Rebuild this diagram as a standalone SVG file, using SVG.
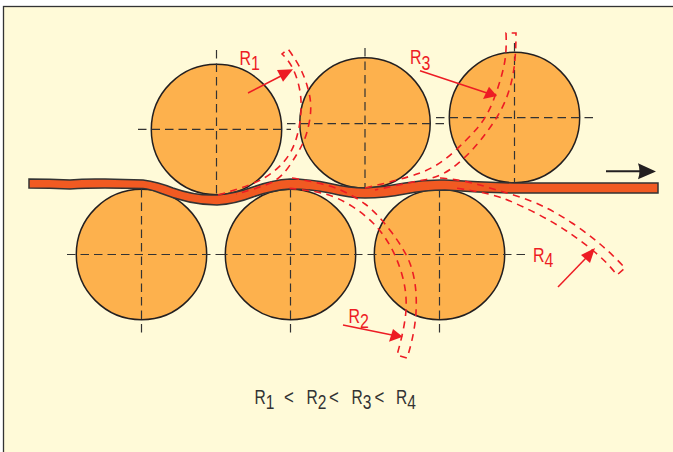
<svg xmlns="http://www.w3.org/2000/svg" width="673" height="452" viewBox="0 0 673 452">
<style>
.roll{fill:#fdb14d;stroke:#231f20;stroke-width:1.5}
.axis{fill:none;stroke:#333;stroke-width:1.2;stroke-dasharray:8.500 5}
.guide{fill:none;stroke:#ed1c24;stroke-width:1.6;stroke-dasharray:7 5.500}
.arrow{fill:none;stroke:#ed1c24;stroke-width:1.5}
.head{fill:#ed1c24}
text{font-family:"Liberation Sans",sans-serif;font-size:21px}
.lbl{fill:#ed1c24}
.blk{fill:#333}
</style>
<rect x="0" y="0" width="673" height="452" fill="#fff"/>
<rect x="3.500" y="6.500" width="675" height="452" fill="#fffad8" stroke="#333" stroke-width="1.300"/>
<g id="rollers">
<g id="roll-t1"><circle class="roll" cx="216.500" cy="129.500" r="65.200"/><path class="axis" d="M216.500 50V194M138 129.300H291"/></g>
<g id="roll-t2"><circle class="roll" cx="365" cy="123" r="65.200"/><path class="axis" d="M365 48V188M287 123.700H444"/></g>
<g id="roll-t3"><circle class="roll" cx="514.500" cy="117.500" r="65.200"/><path class="axis" d="M514.500 43V183M436 117.700H595"/></g>
<g id="roll-b1"><circle class="roll" cx="141.500" cy="254.500" r="65.200"/><path class="axis" d="M141.500 189V334M67 254.500H219"/></g>
<g id="roll-b2"><circle class="roll" cx="290.500" cy="254.500" r="65.200"/><path class="axis" d="M290.500 189V334M219 254.500H368"/></g>
<g id="roll-b3"><circle class="roll" cx="439.500" cy="254.500" r="65.200"/><path class="axis" d="M439.500 189V334M368 254.500H525"/></g>
</g>
<g id="strip"><path d="M29 179Q50 179 70 180Q85 178.500 105 179Q125 179.500 143 180Q158 182 173 188Q195 196 217 195Q235 193.500 253 187Q272 180 290 179Q310 179 330 183.500Q350 188 365 188Q385 187 405 183Q425 179.500 445 180Q480 182 514 183H658V193H514Q480 192.500 445 190Q425 190 405 194Q385 198 365 198Q350 198 330 193Q310 189 290 189Q272 190 253 197Q235 204 217 205Q190 205 160 193Q150 189 143 188.500Q125 188 105 188Q85 188 70 189Q50 188 29 188Z" fill="#f15a22" stroke="#333" stroke-width="1.500"/></g>
<g id="connectors">
<path class="guide" d="M218 195Q253 185 265 177.500Q277 170 284.500 161Q292 152 296 139.500Q300 127 301 111Q302 95 297 79Q292 63 282 54L288 49Q297 61 302 72Q307 83 309.500 95Q312 107 309.500 121Q307 135 302.500 144Q298 153 290 165Q282 177 272.500 182Q263 187 236 194"/>
<path class="guide" d="M292 178Q323 183 338 189Q353 195 365 204Q377 213 391 231.500Q405 250 410 263.500Q415 277 416 293.500Q417 310 414.500 326.500Q412 343 407 358L397 355Q405 327 406 310Q407 293 402.500 276.500Q398 260 390.500 246.500Q383 233 373 223Q363 213 350 205Q337 197 323.500 193.500Q310 190 285 188"/>
<path class="guide" d="M365 188Q400 180 418.500 173.500Q437 167 452 153.500Q467 140 477 128.500Q487 117 493.500 100Q500 83 503.500 68Q507 53 506 33L516 33Q516 53 514 68Q512 83 507 96.500Q502 110 492.500 124Q483 138 473 149Q463 160 451.500 168.500Q440 177 423.500 180Q407 183 375 190"/>
<path class="guide" d="M440 178Q463 180 480 185Q497 190 513.500 195Q530 200 543.500 206.500Q557 213 572 223Q587 233 600 244Q613 255 625 268L617 275Q607 262 593.500 251Q580 240 566.500 231Q553 222 536.500 213.500Q520 205 505 199Q490 193 455 188"/>
</g>
<g id="flow-arrow"><path d="M606 171.300H642" stroke="#231f20" stroke-width="2" fill="none"/><path d="M656 171.500L638 163.300Q641 171.500 638 179.300Z" fill="#231f20"/></g>
<g id="pointers">
<path class="arrow" d="M248 93L281 76"/><path class="head" d="M293 69.300L277 70L283 81.700Z"/>
<path class="arrow" d="M420 70.700L487 93"/><path class="head" d="M497 96L489 86.700L483 99Z"/>
<path class="arrow" d="M343 325L392 335"/><path class="head" d="M402.700 336.700L393 329L389 341.700Z"/>
<path class="arrow" d="M558 287L586 258"/><path class="head" d="M595 248L581 255L590 263Z"/>
</g>
<g id="labels">
<text class="lbl" transform="translate(239.500 65) scale(.76 1)">R<tspan dy="5">1</tspan></text>
<text class="lbl" transform="translate(410 63.500) scale(.76 1)">R<tspan dy="6">3</tspan></text>
<text class="lbl" transform="translate(348.500 323) scale(.76 1)">R<tspan dy="5">2</tspan></text>
<text class="lbl" transform="translate(533 261.500) scale(.76 1)">R<tspan dy="5">4</tspan></text>
<text class="blk" transform="translate(254.500 404) scale(.74 1)">R<tspan dy="5">1</tspan></text>
<text class="blk" transform="translate(284 404) scale(.8 1)">&lt;</text>
<text class="blk" transform="translate(306.500 404) scale(.74 1)">R<tspan dy="5">2</tspan></text>
<text class="blk" transform="translate(329 404) scale(.8 1)">&lt;</text>
<text class="blk" transform="translate(351.500 404) scale(.74 1)">R<tspan dy="5">3</tspan></text>
<text class="blk" transform="translate(374.500 404) scale(.8 1)">&lt;</text>
<text class="blk" transform="translate(396 404) scale(.74 1)">R<tspan dy="5">4</tspan></text>
</g>
</svg>
